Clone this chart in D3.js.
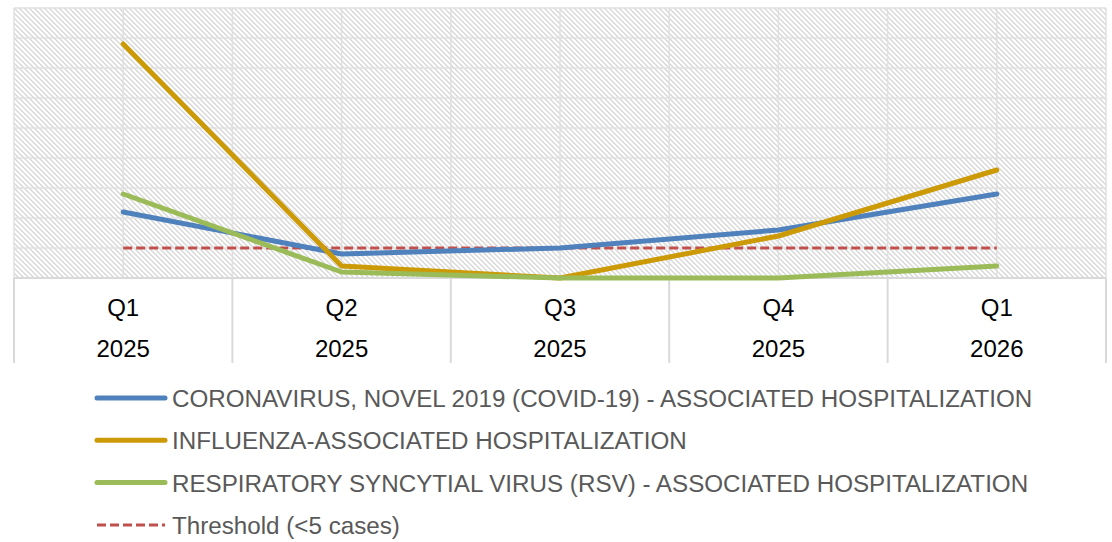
<!DOCTYPE html>
<html>
<head>
<meta charset="utf-8">
<script src="https://cdn.jsdelivr.net/npm/d3@7"></script>
<style>
  body { margin: 0; background: #fff; }
  text { font-family: "Liberation Sans", Arial, sans-serif; }
</style>
</head>
<body>
<div id="plot"></div>
<script>
// chart data
var quarters = ["Q1", "Q2", "Q3", "Q4", "Q1"];
var years = ["2025", "2025", "2025", "2025", "2026"];
var covid = [11, 4, 5, 8, 14];
var influenza = [39, 2, 0, 7, 18];
var rsv = [14, 1, 0, 0, 2];
var threshold = [5, 5, 5, 5, 5];
var yTicks = [0, 5, 10, 15, 20, 25, 30, 35, 40, 45];

var series = [
  {name: "CORONAVIRUS, NOVEL 2019 (COVID-19) - ASSOCIATED HOSPITALIZATION", values: covid, color: "#4f81bd"},
  {name: "INFLUENZA-ASSOCIATED HOSPITALIZATION", values: influenza, color: "#cc9a06"},
  {name: "RESPIRATORY SYNCYTIAL VIRUS (RSV) - ASSOCIATED HOSPITALIZATION", values: rsv, color: "#9bbb59"}
];

var W = 1112, H = 542;
var margin = {t:8, r:6, b:264, l:14};
var width = W - margin.l - margin.r,
    height = H - margin.t - margin.b;

var svg = d3.select('#plot')
    .append('svg')
    .attr('width', W)
    .attr('height', H);

// hatch fill
var pat = svg.append('defs').append('pattern')
    .attr('id', 'hatch')
    .attr('patternUnits', 'userSpaceOnUse')
    .attr('width', 5)
    .attr('height', 5);
pat.append('rect').attr('width', 5).attr('height', 5).attr('fill', '#fff');
pat.append('path')
    .attr('d', 'M-1,-1 L6,6 M-1,4 L1,6 M4,-1 L6,1')
    .attr('stroke', '#d6d6d6')
    .attr('stroke-width', 1.3);

var plot = svg.append('g')
    .attr('transform', 'translate(' + margin.l + ',' + margin.t + ')');

var idx = d3.range(quarters.length);
var x = d3.scaleBand().domain(idx).range([0, width]);
var y = d3.scaleLinear().domain([0, 45]).range([height, 0]);
var cx = function(i){ return x(i) + x.bandwidth() / 2; };

plot.append('rect')
    .attr('width', width)
    .attr('height', height)
    .attr('fill', 'url(#hatch)');

// horizontal grid
plot.selectAll('.hgrid')
    .data(yTicks)
    .enter().append('line')
    .attr('x1', 0).attr('x2', width)
    .attr('y1', function(d){ return y(d); })
    .attr('y2', function(d){ return y(d); })
    .attr('stroke', '#e0e0e0')
    .attr('stroke-width', 1.5);

// vertical grid at centers and band edges
var vlines = [];
idx.forEach(function(i){ vlines.push(x(i)); vlines.push(cx(i)); });
vlines.push(width);
plot.selectAll('.vgrid')
    .data(vlines)
    .enter().append('line')
    .attr('x1', function(d){ return d; })
    .attr('x2', function(d){ return d; })
    .attr('y1', 0).attr('y2', height)
    .attr('stroke', '#e0e0e0')
    .attr('stroke-width', 1.5);

// axis line and category separators
plot.append('line')
    .attr('x1', 0).attr('x2', width)
    .attr('y1', height).attr('y2', height)
    .attr('stroke', '#d9d9d9')
    .attr('stroke-width', 2);

var seps = idx.map(function(i){ return x(i); }).concat([width]);
plot.selectAll('.sep')
    .data(seps)
    .enter().append('line')
    .attr('x1', function(d){ return d; })
    .attr('x2', function(d){ return d; })
    .attr('y1', height).attr('y2', height + 85)
    .attr('stroke', '#d9d9d9')
    .attr('stroke-width', 2);

plot.selectAll('.qlab')
    .data(quarters)
    .enter().append('text')
    .attr('x', function(d, i){ return cx(i); })
    .attr('y', height + 38)
    .attr('text-anchor', 'middle')
    .attr('font-size', 24)
    .attr('fill', '#000')
    .text(function(d){ return d; });

plot.selectAll('.ylab')
    .data(years)
    .enter().append('text')
    .attr('x', function(d, i){ return cx(i); })
    .attr('y', height + 79)
    .attr('text-anchor', 'middle')
    .attr('font-size', 24)
    .attr('fill', '#000')
    .text(function(d){ return d; });

// lines
var line = d3.line()
    .x(function(d, i){ return cx(i); })
    .y(function(d){ return y(d); });

plot.append('path')
    .datum(threshold)
    .attr('d', line)
    .attr('fill', 'none')
    .attr('stroke', '#c0504d')
    .attr('stroke-width', 3)
    .attr('stroke-dasharray', '9,4');

series.forEach(function(s){
  plot.append('path')
      .datum(s.values)
      .attr('d', line)
      .attr('fill', 'none')
      .attr('stroke', s.color)
      .attr('stroke-width', 5)
      .attr('stroke-linecap', 'round')
      .attr('stroke-linejoin', 'round');
});

// legend
var legend = svg.append('g').attr('transform', 'translate(97,0)');
var items = series.concat([{name: "Threshold (<5 cases)", color: "#c0504d", dashed: true}]);
items.forEach(function(s, i){
  var ly = 398 + i * 42.3;
  legend.append('line')
      .attr('x1', 0).attr('x2', 68)
      .attr('y1', ly).attr('y2', ly)
      .attr('stroke', s.color)
      .attr('stroke-width', s.dashed ? 3 : 5)
      .attr('stroke-linecap', s.dashed ? 'butt' : 'round')
      .attr('stroke-dasharray', s.dashed ? '9,4' : null);
  legend.append('text')
      .attr('x', 75)
      .attr('y', ly + 9)
      .attr('font-size', 24.2)
      .attr('fill', '#595959')
      .text(s.name);
});
</script>
</body>
</html>
